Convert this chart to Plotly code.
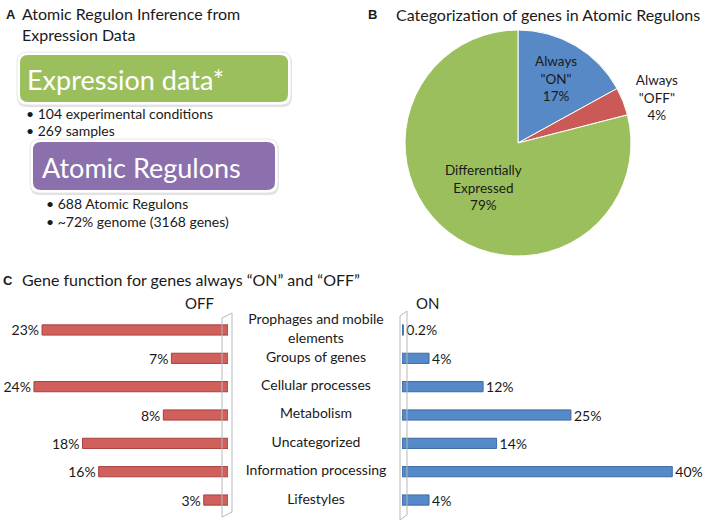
import plotly.graph_objects as go

W, H = 708, 526

# ---------------- data ----------------
pie_labels = ['Always<br>"ON"<br>17%', 'Always<br>"OFF"<br>4%', 'Differentially<br>Expressed<br>79%']
pie_values = [17, 4, 79]
pie_colors = ["#5689c6", "#cb5a57", "#9cbf5d"]

categories = ["Prophages and mobile<br>elements", "Groups of genes", "Cellular processes",
              "Metabolism", "Uncategorized", "Information processing", "Lifestyles"]
off_values = [23, 7, 24, 8, 18, 16, 3]
on_values = [0.2, 4, 12, 25, 14, 40, 4]

bullets_expr = ["• 104 experimental conditions", "• 269 samples"]
bullets_ar = ["• 688 Atomic Regulons", "• ~72% genome (3168 genes)"]

FONT = "Lato"
BOLD = "Liberation Sans"


def px(x):
    return x / W


def py(y):
    return 1 - y / H


def rrect(x0, y0, x1, y1, r):
    rx, ry = r / W, r / H
    X0, X1 = px(x0), px(x1)
    Y0, Y1 = py(y0), py(y1)  # Y0 top (larger), Y1 bottom
    return (f"M {X0+rx},{Y0} L {X1-rx},{Y0} Q {X1},{Y0} {X1},{Y0-ry} "
            f"L {X1},{Y1+ry} Q {X1},{Y1} {X1-rx},{Y1} L {X0+rx},{Y1} "
            f"Q {X0},{Y1} {X0},{Y1+ry} L {X0},{Y0-ry} Q {X0},{Y0} {X0+rx},{Y0} Z")


def poly(pts):
    return "M " + " L ".join(f"{px(x)},{py(y)}" for x, y in pts) + " Z"


fig = go.Figure()

# ---------------- Panel B pie ----------------
fig.add_trace(go.Pie(
    values=pie_values, text=pie_labels, textinfo="text",
    sort=False, direction="clockwise", rotation=0,
    marker=dict(colors=pie_colors, line=dict(color="white", width=1)),
    textposition=["inside", "outside", "inside"],
    insidetextorientation="horizontal",
    textfont=dict(family=FONT, size=13.5, color="#1a1a1a"),
    domain=dict(x=[px(405), px(631)], y=[py(256), py(30)]),
    showlegend=False, hoverinfo="skip",
))

# ---------------- Panel C bars ----------------
fig.add_trace(go.Bar(
    y=categories, x=off_values, orientation="h",
    xaxis="x", yaxis="y", width=0.36,
    marker=dict(color="#d0605c", line=dict(color="#a8403d", width=1)),
    text=[f"{v:g}%" for v in off_values], textposition="outside", constraintext="none",
    textfont=dict(family=FONT, size=14, color="#1a1a1a"),
    cliponaxis=False, showlegend=False, hoverinfo="skip",
))
fig.add_trace(go.Bar(
    y=categories, x=on_values, orientation="h",
    xaxis="x2", yaxis="y", width=0.36,
    marker=dict(color="#5589c8", line=dict(color="#3b6aa3", width=1)),
    text=[f"{v:g}%" for v in on_values], textposition="outside", constraintext="none",
    textfont=dict(family=FONT, size=14, color="#1a1a1a"),
    cliponaxis=False, showlegend=False, hoverinfo="skip",
))
fig.add_trace(go.Scatter(
    y=categories, x=[0] * len(categories), mode="text",
    text=categories, textposition="middle center",
    textfont=dict(family=FONT, size=14, color="#1a1a1a"),
    xaxis="x3", yaxis="y", showlegend=False, hoverinfo="skip", cliponaxis=False,
))

shapes = []
# axis walls
shapes.append(dict(type="path", xref="paper", yref="paper",
                   path=poly([(222, 318), (232, 313), (232, 512), (222, 517)]),
                   line=dict(color="#b8b8b8", width=1), fillcolor="rgba(0,0,0,0)", layer="above"))
shapes.append(dict(type="path", xref="paper", yref="paper",
                   path=poly([(400, 316), (407, 311), (407, 515), (400, 520)]),
                   line=dict(color="#b8b8b8", width=1), fillcolor="rgba(0,0,0,0)", layer="above"))

# Panel A boxes (shadow, white border, fill)
for (x0, y0, x1, y1, col) in [(20, 55, 288, 102, "#9cbf5d"), (33, 142, 275, 190, "#8b70ad")]:
    shapes.append(dict(type="path", xref="paper", yref="paper", path=rrect(x0 - 3, y0 - 2, x1 + 4, y1 + 5, 10),
                       line=dict(width=0), fillcolor="rgba(0,0,0,0.12)", layer="below"))
    shapes.append(dict(type="path", xref="paper", yref="paper", path=rrect(x0 - 3, y0 - 3, x1 + 3, y1 + 3, 10),
                       line=dict(color="#e6e6e6", width=1), fillcolor="white", layer="below"))
    shapes.append(dict(type="path", xref="paper", yref="paper", path=rrect(x0, y0, x1, y1, 8),
                       line=dict(width=0), fillcolor=col, layer="below"))

ann = []


def text(x, y, s, size=14, family=FONT, color="#1a1a1a", xanchor="left", bold=False):
    if bold:
        s = f"<b>{s}</b>"
    ann.append(dict(x=px(x), y=py(y), xref="paper", yref="paper", text=s, showarrow=False,
                    xanchor=xanchor, yanchor="middle", align="left",
                    font=dict(family=family, size=size, color=color)))


text(4, 15, "A", 13, BOLD, bold=True)
text(20, 23.5, "Atomic Regulon Inference from<br>Expression Data", 16)
text(25, 79, "Expression data*", 27, color="white")
for i, b in enumerate(bullets_expr):
    text(24, 113 + i * 17, b, 14)
text(40, 167, "Atomic Regulons", 27, color="white")
for i, b in enumerate(bullets_ar):
    text(44, 203 + i * 18, b, 14)

text(366, 15, "B", 13, BOLD, bold=True)
text(394, 14, "Categorization of genes in Atomic Regulons", 16)

text(1, 280, "C", 13, BOLD, bold=True)
text(20, 279, "Gene function for genes always “ON” and “OFF”", 16)
text(199, 303, "OFF", 15, xanchor="center")
text(427, 303, "ON", 15, xanchor="center")

ydom = [py(514.2), py(315.8)]
fig.update_layout(
    width=W, height=H, margin=dict(l=0, r=0, t=0, b=0),
    paper_bgcolor="white", plot_bgcolor="rgba(0,0,0,0)",
    xaxis=dict(domain=[0, px(228)], range=[28.2, 0], visible=False),
    xaxis2=dict(domain=[px(402), px(702)], range=[0, 44.4], visible=False, anchor="y"),
    xaxis3=dict(domain=[px(236), px(396)], range=[-1, 1], visible=False, anchor="y"),
    yaxis=dict(domain=ydom, visible=False, categoryorder="array", categoryarray=categories,
               autorange="reversed", anchor="x"),
    shapes=shapes, annotations=ann,
)

fig.write_html("out.html", config={"displayModeBar": False},
               post_script="document.body.style.margin='0';document.body.style.overflow='hidden';")
